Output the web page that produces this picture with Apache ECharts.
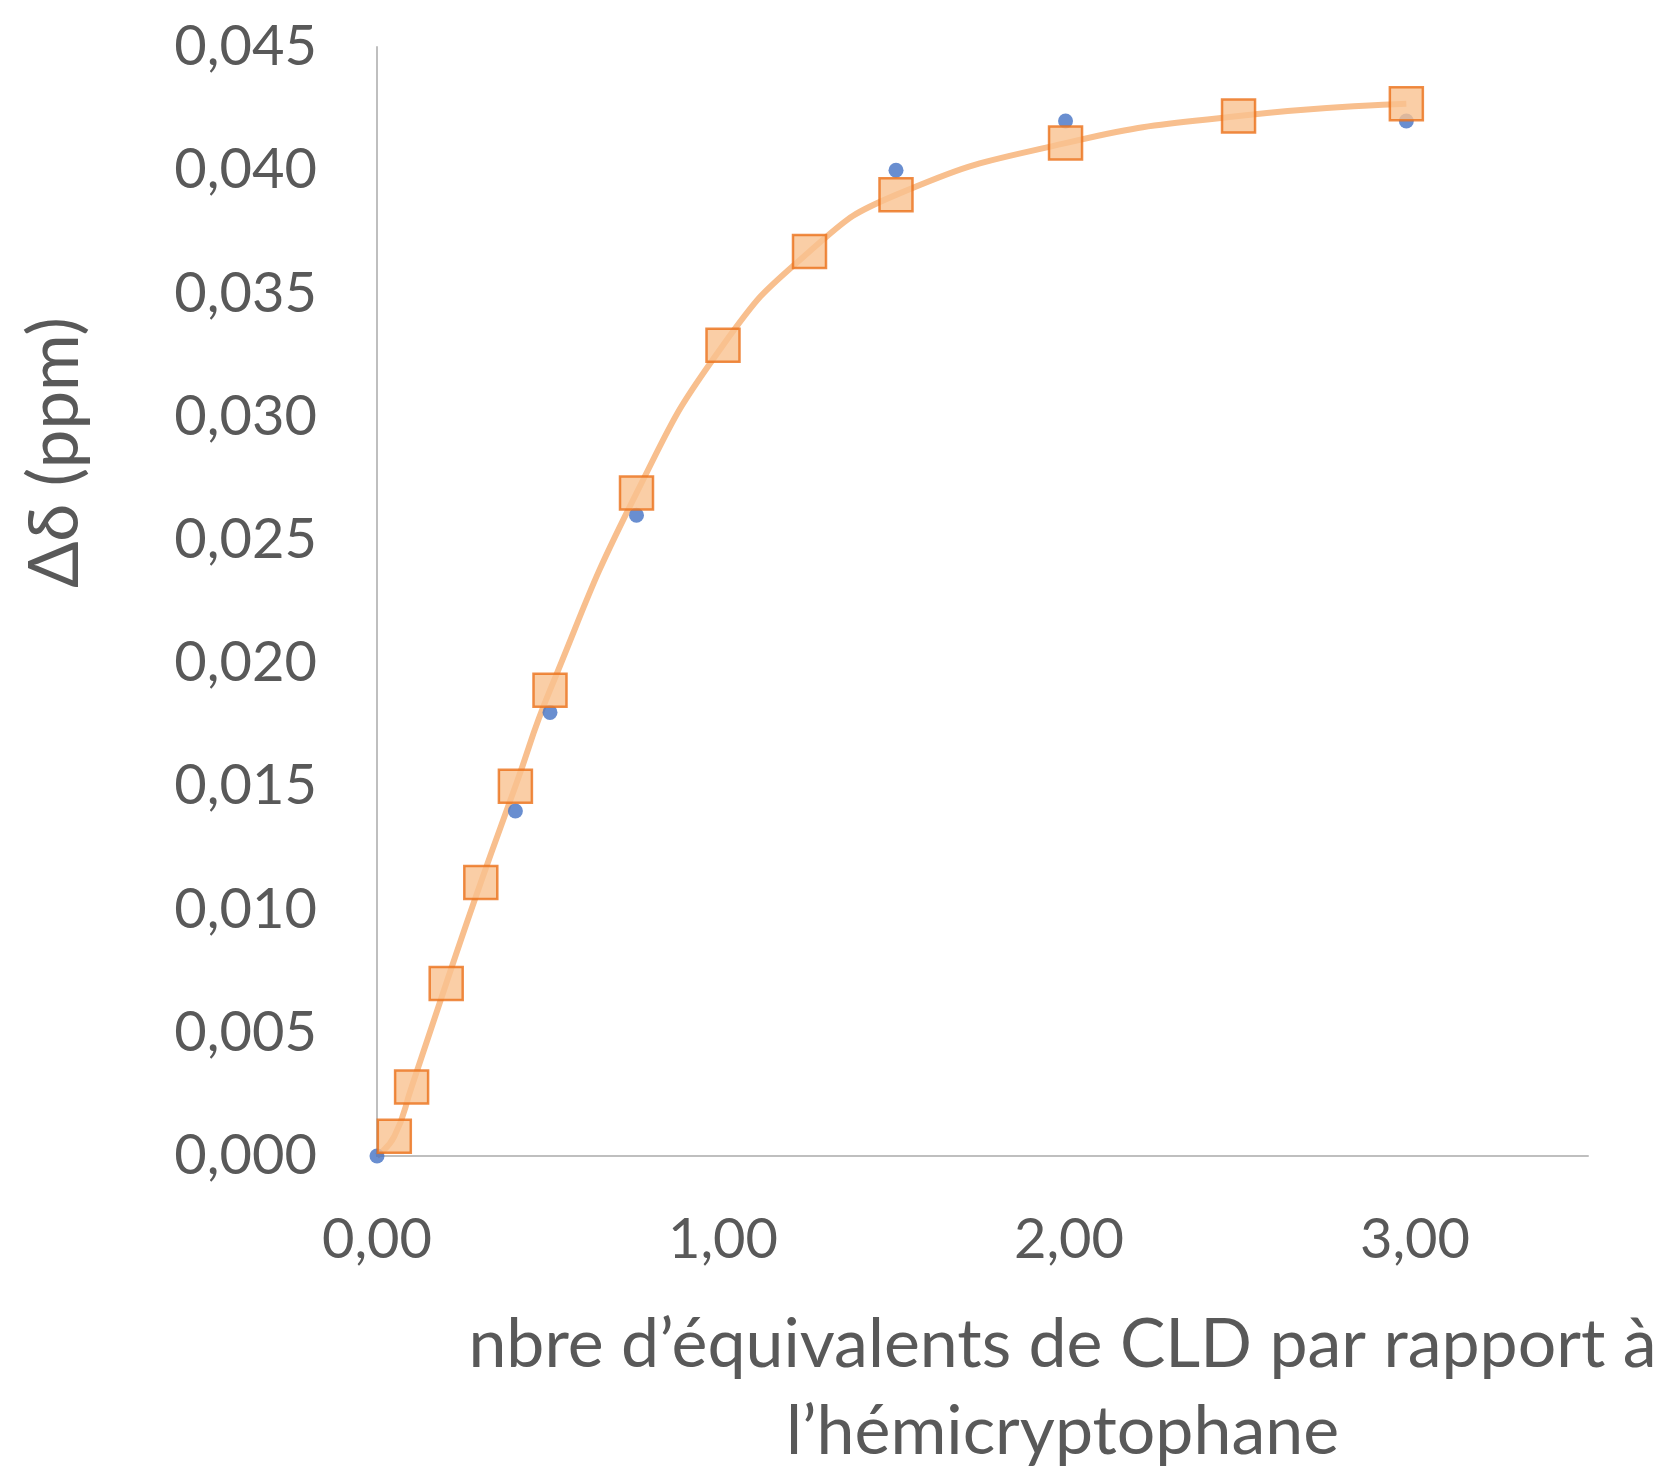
<!DOCTYPE html>
<html>
<head>
<meta charset="utf-8">
<script src="https://cdn.jsdelivr.net/npm/echarts@6/dist/echarts.min.js"></script>
<style>
html,body{margin:0;padding:0;background:#fff;}
#chart{width:1678px;height:1481px;}
</style>
</head>
<body>
<div id="chart"></div>
<script>
// Experimental points (blue dots)
const expX = [0, 0.4, 0.5, 0.75, 1.5, 1.99, 2.975];
const expY = [0.000, 0.014, 0.018, 0.026, 0.040, 0.042, 0.042];
// Fitted curve points (orange squares); the first point (0,0) has no marker
const fitX = [0, 0.05, 0.1, 0.2, 0.3, 0.4, 0.5, 0.75, 1.0, 1.25, 1.5, 1.99, 2.49, 2.975];
const fitY = [0, 0.0008, 0.0028, 0.0070, 0.0111, 0.0150, 0.0189, 0.0269, 0.0329, 0.0367, 0.0390, 0.0411, 0.0422, 0.0427];
const yTicks = {min: 0, max: 0.045, interval: 0.005};
const xTicks = {min: 0, max: 3.5, interval: 1};
const xTitle = 'nbre d’équivalents de CLD par rapport à\nl’hémicryptophane';
const yTitle = 'Δδ (ppm)';

const FONT = 'Lato';
const TXT = '#595959';

const chart = echarts.init(document.getElementById('chart'), null, {renderer: 'canvas'});
const curveData = fitX.map((x, i) => [x, fitY[i]]);
const squareData = curveData.slice(1);
const expData = expX.map((x, i) => [x, expY[i]]);

chart.setOption({
  animation: false,
  backgroundColor: '#ffffff',
  grid: {left: 377, top: 47, right: 90, bottom: 314, containLabel: false},
  xAxis: {
    type: 'value',
    min: xTicks.min, max: xTicks.max, interval: xTicks.interval,
    axisLine: {show: true, onZero: true, lineStyle: {color: '#BFBFBF', width: 2}},
    axisTick: {show: false},
    splitLine: {show: false},
    axisLabel: {
      color: TXT, fontFamily: FONT, fontSize: 56, margin: 56,
      showMaxLabel: false,
      formatter: v => v.toFixed(2).replace('.', ',')
    },
    name: xTitle,
    nameLocation: 'middle',
    nameGap: 146,
    nameTextStyle: {color: TXT, fontFamily: FONT, fontSize: 68, lineHeight: 87, padding: [0, 0, 0, 160]}
  },
  yAxis: {
    type: 'value',
    min: yTicks.min, max: yTicks.max, interval: yTicks.interval,
    axisLine: {show: true, lineStyle: {color: '#BFBFBF', width: 2}},
    axisTick: {show: false},
    splitLine: {show: false},
    axisLabel: {
      color: TXT, fontFamily: FONT, fontSize: 56, margin: 60,
      formatter: v => v.toFixed(3).replace('.', ',')
    },
    name: yTitle,
    nameLocation: 'middle',
    nameGap: 287,
    nameRotate: 90,
    nameTextStyle: {color: TXT, fontFamily: FONT, fontSize: 69, padding: [0, 0, 0, 298]}
  },
  series: [
    {
      type: 'line', data: curveData, smooth: 0.5, showSymbol: false, symbol: 'none',
      lineStyle: {color: '#F8BF8E', width: 6}, z: 2, silent: true
    },
    {
      type: 'scatter', data: expData, symbol: 'circle', symbolSize: 15,
      itemStyle: {color: '#4472C4'}, z: 3
    },
    {
      type: 'scatter', data: squareData, symbol: 'rect', symbolSize: 33,
      itemStyle: {color: '#F9C290', borderColor: '#EB7119', borderWidth: 2.5}, z: 4
    }
  ]
});
</script>
</body>
</html>
